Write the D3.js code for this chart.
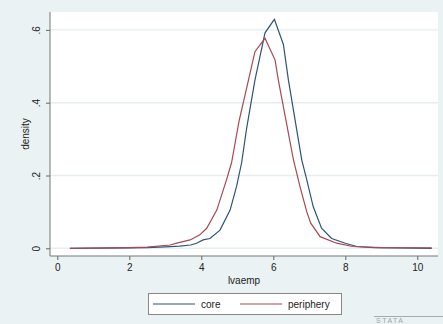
<!DOCTYPE html>
<html><head><meta charset="utf-8">
<script src="https://cdn.jsdelivr.net/npm/d3@7"></script>
<style>body{margin:0;background:#eaf2f3;}svg{display:block;}</style>
</head><body>
<svg id="c" width="443" height="324"></svg>
<script>
const seriesNames = ["core", "periphery"];
const coreX = [0.35,1.0,2.0,2.5,3.0,3.4,3.7,3.87,4.05,4.24,4.52,4.8,4.98,5.12,5.26,5.49,5.77,6.03,6.28,6.42,6.79,6.93,7.11,7.34,7.62,8.0,8.32,8.8,9.5,10.4];
const coreY = [0,0.0005,0.001,0.002,0.004,0.006,0.009,0.014,0.023,0.027,0.05,0.105,0.17,0.235,0.33,0.462,0.592,0.629,0.56,0.462,0.243,0.188,0.114,0.055,0.027,0.014,0.005,0.002,0.001,0];
const periX = [0.35,1.0,2.0,2.5,3.13,3.32,3.69,3.96,4.15,4.43,4.7,4.84,5.05,5.31,5.49,5.77,6.05,6.14,6.56,6.74,6.93,7.04,7.3,7.76,8.2,9.0,10.4];
const periY = [0,0.0005,0.002,0.003,0.009,0.014,0.023,0.037,0.055,0.105,0.188,0.235,0.35,0.462,0.54,0.577,0.517,0.462,0.243,0.17,0.1,0.069,0.032,0.014,0.005,0.002,0.001];
const xTicks = [0,2,4,6,8,10];
const yTicks = [0,0.2,0.4,0.6];
const yTickLabels = ["0",".2",".4",".6"];
const xTitle = "lvaemp";
const yTitle = "density";

const svg = d3.select("#c");
const W = 443, H = 324;
svg.append("rect").attr("width",W).attr("height",H).attr("fill","#eaf2f3");
const L = 50, R = 438, T = 12, B = 256;
svg.append("rect").attr("x",L).attr("y",T).attr("width",R-L).attr("height",B-T).attr("fill","#ffffff");

const x = d3.scaleLinear().domain([0,10]).range([57.3,417.3]);
const y = d3.scaleLinear().domain([0,0.6]).range([248.3,29.9]);
const font = "Liberation Sans, Arial, sans-serif";

// grid
svg.append("g").selectAll("line").data(yTicks).join("line")
  .attr("x1",L).attr("x2",R).attr("y1",d=>y(d)).attr("y2",d=>y(d))
  .attr("stroke","#e6eef0").attr("stroke-width",1.4);

// axes
const ax = svg.append("g").attr("transform",`translate(0,${B})`)
  .call(d3.axisBottom(x).tickValues(xTicks).tickSize(4).tickPadding(4).tickFormat(d3.format("d")));
const ay = svg.append("g").attr("transform",`translate(${L},0)`)
  .call(d3.axisLeft(y).tickValues(yTicks).tickSize(4).tickPadding(4).tickFormat((d,i)=>yTickLabels[i]));
[ax,ay].forEach(g=>{
  g.select(".domain").remove();
  g.selectAll(".tick line").attr("stroke","#666");
  g.selectAll("text").attr("font-family",font).attr("font-size",10).attr("fill","#222");
});
ay.selectAll(".tick text").attr("text-anchor","middle").attr("dy",null)
  .attr("transform","translate(-14,0) rotate(-90)").attr("x",0).attr("y",0)
  .attr("dominant-baseline","auto").attr("dy","0.35em");
svg.append("line").attr("x1",L).attr("x2",L).attr("y1",T).attr("y2",B).attr("stroke","#777").attr("stroke-width",1);
svg.append("line").attr("x1",L).attr("x2",R).attr("y1",B).attr("y2",B).attr("stroke","#777").attr("stroke-width",1);

// titles
svg.append("text").attr("x",(L+R)/2).attr("y",284).attr("text-anchor","middle")
  .attr("font-family",font).attr("font-size",10).attr("fill","#222").text(xTitle);
svg.append("text").attr("transform",`translate(25,${(T+B)/2}) rotate(-90)`).attr("text-anchor","middle")
  .attr("dy","0.35em").attr("font-family",font).attr("font-size",10).attr("fill","#222").text(yTitle);

// lines
const colors = ["#2f5478","#a54a52"];
const line = d3.line().x(d=>x(d[0])).y(d=>y(d[1]));
const data = [d3.zip(coreX,coreY), d3.zip(periX,periY)];
svg.append("g").selectAll("path").data(data).join("path")
  .attr("d",line).attr("fill","none").attr("stroke",(d,i)=>colors[i]).attr("stroke-width",1.2);

// legend
const lg = svg.append("g");
lg.append("rect").attr("x",148.5).attr("y",293.5).attr("width",193).attr("height",21)
  .attr("fill","#fff").attr("stroke","#888");
const items = [{x1:153,x2:195,tx:201},{x1:240,x2:282,tx:288}];
items.forEach((it,i)=>{
  lg.append("line").attr("x1",it.x1).attr("x2",it.x2).attr("y1",304).attr("y2",304)
    .attr("stroke",colors[i]).attr("stroke-width",1.2);
  lg.append("text").attr("x",it.tx).attr("y",304).attr("dy","0.35em")
    .attr("font-family",font).attr("font-size",10).attr("fill","#222").text(seriesNames[i]);
});

// stata logo
svg.append("line").attr("x1",374).attr("x2",443).attr("y1",316.5).attr("y2",316.5).attr("stroke","#aaa");
svg.append("text").attr("x",376).attr("y",323).attr("font-family",font).attr("font-size",7)
  .attr("letter-spacing",1.5).attr("fill","#9aa").text("STATA");
</script>
</body></html>
